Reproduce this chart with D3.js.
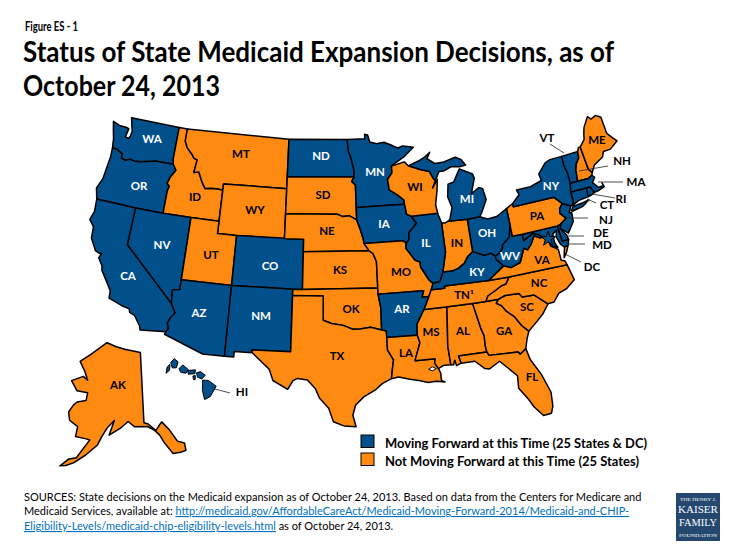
<!DOCTYPE html>
<html><head><meta charset="utf-8">
<script src="https://cdn.jsdelivr.net/npm/d3@7"></script>
<style>html,body{margin:0;padding:0;background:#fff}svg{display:block}text{font-family:Lato,"Open Sans",sans-serif}</style>
</head><body><svg id="c" width="735" height="551"></svg>
<script>
// ---------- chart content ----------
const figureLabel = "Figure ES - 1";
const titleLines = ["Status of State Medicaid Expansion Decisions, as of", "October 24, 2013"];
const legendLabels = ["Moving Forward at this Time (25 States & DC)", "Not Moving Forward at this Time (25 States)"];
const movingForward = ["WA","OR","CA","NV","AZ","NM","CO","ND","MN","IA","AR","IL","KY","OH","WV","MI","NY","VT","MA","RI","CT","NJ","DE","MD","DC","HI"];
const notMovingForward = ["ID","MT","WY","UT","SD","NE","KS","OK","TX","LA","MS","AL","GA","FL","SC","NC","TN","VA","MO","WI","IN","PA","NH","ME","AK"];
const statusColors = ["#02508b", "#ff8a12"];

// ---------- state outlines, [lon, lat] ----------
const WA=[[[-124.7,48.38],[-123.9,48.17],[-123.1,48.15],[-122.75,48.1],[-122.9,47.4],[-122.5,47.3],[-122.35,47.6],[-122.3,47.95],[-122.5,48.4],[-122.75,49],[-117.03,49],[-117.04,46.42],[-116.92,46],[-118.98,46],[-119.3,45.93],[-120.5,45.7],[-121.2,45.65],[-121.8,45.7],[-122.3,45.55],[-122.75,45.65],[-122.8,46],[-123.2,46.15],[-123.5,46.27],[-124,46.27],[-124.1,46.7],[-124.15,47],[-124.4,47.6]]];
const OR=[[[-124,46.27],[-123.5,46.27],[-123.2,46.15],[-122.8,46],[-122.75,45.65],[-122.3,45.55],[-121.8,45.7],[-121.2,45.65],[-120.5,45.7],[-119.3,45.93],[-118.98,46],[-116.92,46],[-116.5,45.55],[-117,44.9],[-117.2,44.4],[-116.9,44.2],[-117.03,43.8],[-117.03,42],[-120,42],[-124.21,42],[-124.55,42.85],[-124.15,43.7],[-124.05,44.7],[-123.95,45.6]]];
const ID=[[[-117.03,49],[-116.05,49],[-116.05,48],[-115.7,47.5],[-115,47],[-114.75,46.75],[-114.35,46.65],[-114.5,45.6],[-113.95,45.7],[-113.45,44.95],[-113,44.45],[-112.3,44.55],[-111.5,44.55],[-111.05,44.48],[-111.05,42],[-114.04,42],[-117.03,42],[-117.03,43.8],[-116.9,44.2],[-117.2,44.4],[-117,44.9],[-116.5,45.55],[-116.92,46],[-117.04,46.42]]];
const MT=[[[-116.05,49],[-104.05,49],[-104.05,45.94],[-104.05,45],[-111.05,45],[-111.05,44.48],[-111.5,44.55],[-112.3,44.55],[-113,44.45],[-113.45,44.95],[-113.95,45.7],[-114.5,45.6],[-114.35,46.65],[-114.75,46.75],[-115,47],[-115.7,47.5],[-116.05,48]]];
const WY=[[[-111.05,45],[-104.05,45],[-104.05,43],[-104.05,41],[-109.05,41],[-111.05,41],[-111.05,42],[-111.05,44.48]]];
const NV=[[[-120,42],[-117.03,42],[-114.04,42],[-114.04,37],[-114.04,36.2],[-114.75,36.1],[-114.63,35],[-120,39]]];
const CA=[[[-124.21,42],[-120,42],[-120,39],[-114.63,35],[-114.13,34.3],[-114.5,33.9],[-114.72,33.4],[-114.52,33.03],[-114.72,32.72],[-117.12,32.53],[-117.25,32.85],[-117.9,33.6],[-118.4,33.75],[-118.5,34.03],[-119.2,34.15],[-120.6,34.55],[-120.65,35.15],[-121.9,36.6],[-122,36.95],[-122.5,37.5],[-122.3,37.9],[-122.5,37.85],[-123,38],[-123.7,38.9],[-123.8,39.8],[-124.35,40.3],[-124.1,41]]];
const UT=[[[-114.04,42],[-111.05,42],[-111.05,41],[-109.05,41],[-109.05,37],[-114.04,37]]];
const AZ=[[[-114.04,37],[-109.05,37],[-109.05,31.33],[-111.07,31.33],[-114.81,32.5],[-114.72,32.72],[-114.52,33.03],[-114.72,33.4],[-114.5,33.9],[-114.13,34.3],[-114.63,35],[-114.75,36.1],[-114.04,36.2]]];
const CO=[[[-109.05,41],[-102.05,41],[-102.05,40],[-102.05,37],[-103,37],[-109.05,37]]];
const NM=[[[-109.05,37],[-103,37],[-103,36.5],[-103,32],[-106.62,32],[-106.53,31.78],[-108.2,31.78],[-108.2,31.33],[-109.05,31.33]]];
const ND=[[[-104.05,49],[-97.23,49],[-97.1,48],[-96.85,47.5],[-96.55,46.5],[-96.56,45.94],[-104.05,45.94]]];
const SD=[[[-104.05,45.94],[-96.56,45.94],[-96.85,45.6],[-96.45,45.3],[-96.45,43.5],[-96.45,42.5],[-97.2,42.85],[-97.9,42.8],[-98.5,43],[-104.05,43],[-104.05,45]]];
const NE=[[[-104.05,43],[-98.5,43],[-97.9,42.8],[-97.2,42.85],[-96.45,42.5],[-96.1,41.7],[-95.85,41],[-95.77,40.59],[-95.3,40],[-102.05,40],[-102.05,41],[-104.05,41]]];
const KS=[[[-102.05,40],[-95.3,40],[-94.9,39.75],[-94.6,39.1],[-94.62,37],[-102.05,37]]];
const OK=[[[-103,37],[-102.05,37],[-94.62,37],[-94.62,36.5],[-94.43,35.4],[-94.48,33.64],[-95.5,33.9],[-96.5,33.8],[-97.2,33.8],[-98.1,34.13],[-99.2,34.3],[-100,34.56],[-100,36.5],[-103,36.5]]];
const TX=[[[-103,36.5],[-100,36.5],[-100,34.56],[-99.2,34.3],[-98.1,34.13],[-97.2,33.8],[-96.5,33.8],[-95.5,33.9],[-94.48,33.64],[-94.04,33.55],[-94.04,33.02],[-94.04,32],[-93.55,31.2],[-93.7,30.5],[-93.85,29.7],[-94.7,29.35],[-95.3,28.9],[-96.4,28.35],[-97.15,27.7],[-97.4,26.9],[-97.15,25.96],[-98.2,26.05],[-99.1,26.4],[-99.5,27.5],[-100.3,28.3],[-100.7,29.1],[-101.4,29.77],[-102.3,29.88],[-102.7,29.7],[-103.15,28.98],[-104.5,29.65],[-104.9,30.55],[-106.53,31.78],[-106.62,32],[-103,32]]];
const MN=[[[-97.23,49],[-95.15,49],[-95.15,49.38],[-94.8,49.3],[-94.6,48.72],[-93.8,48.55],[-92.95,48.62],[-92,48.3],[-91.4,48.07],[-90.8,48.2],[-89.6,48],[-90.8,47.3],[-92.1,46.75],[-92.29,46.66],[-92.3,46.1],[-92.85,45.6],[-92.75,44.75],[-91.9,44.3],[-91.25,43.85],[-91.22,43.5],[-96.45,43.5],[-96.45,45.3],[-96.85,45.6],[-96.56,45.94],[-96.55,46.5],[-96.85,47.5],[-97.1,48]]];
const IA=[[[-96.45,43.5],[-91.22,43.5],[-91.1,42.7],[-90.64,42.5],[-90.15,41.9],[-91.05,41.2],[-91.1,40.7],[-91.42,40.38],[-91.73,40.61],[-95.77,40.59],[-95.85,41],[-96.1,41.7],[-96.45,42.5]]];
const MO=[[[-95.77,40.59],[-91.73,40.61],[-91.42,40.38],[-91.5,40],[-90.7,39],[-90.2,38.8],[-90.2,38.4],[-89.5,37.3],[-89.15,37],[-89.4,36.5],[-89.7,36],[-90.37,36],[-90.15,36.5],[-94.62,36.5],[-94.62,37],[-94.6,39.1],[-94.9,39.75],[-95.3,40]]];
const AR=[[[-94.62,36.5],[-90.15,36.5],[-90.37,36],[-89.7,36],[-90.05,35.4],[-90.3,35],[-90.6,34.6],[-91.1,33.9],[-91.17,33],[-94.04,33.02],[-94.04,33.55],[-94.48,33.64],[-94.43,35.4]]];
const LA=[[[-94.04,33.02],[-91.17,33],[-91,32.4],[-91.6,31],[-89.75,31],[-89.85,30.65],[-89.55,30.18],[-89.4,29.8],[-89.4,29.2],[-89.1,29.05],[-89.9,29.2],[-90.6,29.15],[-91.3,29.35],[-92.2,29.55],[-93.2,29.8],[-93.85,29.7],[-93.7,30.5],[-93.55,31.2],[-94.04,32]]];
const MS=[[[-90.3,35],[-88.2,35],[-88.1,34.9],[-88.47,31.9],[-88.4,30.37],[-89.1,30.38],[-89.55,30.18],[-89.85,30.65],[-89.75,31],[-91.6,31],[-91,32.4],[-91.17,33],[-91.1,33.9],[-90.6,34.6]]];
const AL=[[[-88.2,35],[-85.6,35],[-85.18,32.87],[-85,32.3],[-85.05,31.5],[-85,31],[-87.6,31],[-87.45,30.4],[-87.9,30.25],[-88,30.7],[-88.15,30.35],[-88.4,30.37],[-88.47,31.9],[-88.1,34.9]]];
const GA=[[[-85.6,35],[-84.32,35],[-83.1,35],[-83.35,34.7],[-82.9,34.45],[-82.55,33.95],[-81.9,33.4],[-81.4,32.6],[-80.85,32.05],[-81.15,31.5],[-81.45,30.72],[-82.05,30.36],[-82.2,30.57],[-84.86,30.7],[-85,31],[-85.05,31.5],[-85,32.3],[-85.18,32.87]]];
const FL=[[[-87.6,31],[-85,31],[-84.86,30.7],[-82.2,30.57],[-82.05,30.36],[-81.45,30.72],[-81.25,29.8],[-80.55,28.45],[-80.05,26.9],[-80.15,25.75],[-80.4,25.2],[-81.1,25.15],[-81.75,26],[-82.1,26.7],[-82.75,27.7],[-82.65,28.7],[-83.4,29.5],[-84,30.1],[-85,29.62],[-85.4,29.7],[-86.2,30.4],[-87.45,30.4]]];
const SC=[[[-83.1,35],[-82.4,35.2],[-81.05,35.15],[-80.8,34.82],[-79.67,34.8],[-78.55,33.87],[-79.2,33.2],[-79.9,32.7],[-80.85,32.05],[-81.4,32.6],[-81.9,33.4],[-82.55,33.95],[-82.9,34.45],[-83.35,34.7]]];
const NC=[[[-75.85,36.55],[-81.68,36.59],[-82.1,36.1],[-82.6,36],[-83.3,35.7],[-84.05,35.4],[-84.32,35],[-83.1,35],[-82.4,35.2],[-81.05,35.15],[-80.8,34.82],[-79.67,34.8],[-78.55,33.87],[-77.95,33.9],[-77.3,34.5],[-76.5,34.7],[-75.55,35.25]]];
const TN=[[[-89.4,36.5],[-88.07,36.5],[-88.07,36.68],[-83.68,36.6],[-81.68,36.59],[-82.1,36.1],[-82.6,36],[-83.3,35.7],[-84.05,35.4],[-84.32,35],[-85.6,35],[-88.2,35],[-90.3,35],[-90.05,35.4],[-89.7,36]]];
const KY=[[[-89.15,37],[-89.4,36.5],[-88.07,36.5],[-88.07,36.68],[-83.68,36.6],[-81.97,37.54],[-82.6,38.17],[-82.6,38.42],[-83,38.72],[-83.7,38.65],[-84.8,39.1],[-85.4,38.73],[-85.8,38.28],[-86.5,37.93],[-87.1,37.8],[-88.05,37.8],[-88.45,37.1]]];
const VA=[[[-83.68,36.6],[-81.68,36.59],[-75.85,36.55],[-75.97,36.9],[-76.3,37],[-76.3,37.9],[-76.95,38.3],[-77.05,38.8],[-77.52,39.12],[-77.83,39.13],[-78.35,39.4],[-78.87,38.76],[-79.3,38.42],[-79.65,38.6],[-80.3,37.55],[-81.3,37.3],[-81.97,37.54]],[[-75.95,37.15],[-75.65,37.95],[-75.25,38.03],[-75.6,37.5]]];
const WV=[[[-81.97,37.54],[-81.3,37.3],[-80.3,37.55],[-79.65,38.6],[-79.3,38.42],[-78.87,38.76],[-78.35,39.4],[-77.83,39.13],[-77.72,39.32],[-78.4,39.62],[-79.48,39.2],[-79.48,39.72],[-80.52,39.72],[-80.52,40.64],[-80.87,39.7],[-81.7,39.2],[-81.75,38.95],[-82.2,38.6],[-82.6,38.42],[-82.6,38.17]]];
const MD=[[[-79.48,39.72],[-75.79,39.72],[-75.7,38.46],[-75.05,38.45],[-75.25,38.03],[-75.65,37.95],[-75.95,38.25],[-76.2,38.9],[-76,39.4],[-76.45,39.2],[-76.5,38.5],[-76.3,38.05],[-76.95,38.3],[-77.05,38.8],[-77.52,39.12],[-77.72,39.32],[-78.4,39.62],[-79.48,39.2]]];
const DE=[[[-75.79,39.72],[-75.42,39.8],[-75.55,39.45],[-75.1,38.8],[-75.05,38.45],[-75.7,38.46]]];
const PA=[[[-80.52,41.98],[-79.76,42.27],[-79.76,42],[-75.35,42],[-74.7,41.36],[-75.1,41],[-75.2,40.65],[-74.72,40.15],[-75.42,39.8],[-75.79,39.72],[-79.48,39.72],[-80.52,39.72],[-80.52,40.64]]];
const NJ=[[[-74.7,41.36],[-73.9,41],[-74.25,40.5],[-74,40.45],[-74.1,39.75],[-74.9,38.95],[-75.55,39.45],[-75.42,39.8],[-74.72,40.15],[-75.2,40.65],[-75.1,41]]];
const NY=[[[-79.76,42],[-79.76,42.27],[-78.9,42.85],[-79.05,43.27],[-77.5,43.27],[-76.2,43.55],[-76.3,44.1],[-75.3,44.85],[-74.7,45],[-73.34,45],[-73.4,44.2],[-73.25,43.6],[-73.27,42.75],[-73.5,42.05],[-73.5,41.3],[-73.65,41],[-73.9,41],[-74.7,41.36],[-75.35,42]],[[-74,40.6],[-73.7,40.9],[-72.6,40.98],[-71.9,41.07],[-72.7,40.7],[-73.9,40.55]]];
const VT=[[[-73.34,45],[-71.5,45.01],[-71.6,44.5],[-72.05,44.1],[-72.3,43.6],[-72.46,42.73],[-73.27,42.75],[-73.25,43.6],[-73.4,44.2]]];
const NH=[[[-71.5,45.01],[-71.3,45.3],[-71.08,45.3],[-70.98,43.4],[-70.7,43.07],[-70.82,42.87],[-71.3,42.7],[-72.46,42.73],[-72.3,43.6],[-72.05,44.1],[-71.6,44.5]]];
const ME=[[[-71.08,45.3],[-70.4,45.8],[-70.25,46.2],[-70,46.7],[-69.23,47.46],[-68.9,47.18],[-68.3,47.35],[-67.79,47.07],[-67.79,45.7],[-67.45,45.3],[-67,44.85],[-68,44.4],[-68.8,44.4],[-69.1,44],[-70.2,43.6],[-70.7,43.07],[-70.98,43.4]]];
const MA=[[[-73.27,42.75],[-72.46,42.73],[-71.3,42.7],[-70.82,42.87],[-70.6,42.65],[-71,42.3],[-70.55,41.8],[-70,41.8],[-70.05,42.05],[-69.95,41.7],[-70.65,41.55],[-71.12,41.5],[-71.38,42.02],[-71.8,42.02],[-73.5,42.05]]];
const CT=[[[-73.5,42.05],[-71.8,42.02],[-71.85,41.32],[-72.9,41.25],[-73.65,41],[-73.5,41.3]]];
const RI=[[[-71.8,42.02],[-71.38,42.02],[-71.12,41.5],[-71.5,41.37],[-71.85,41.32]]];
const OH=[[[-84.8,41.7],[-83.45,41.73],[-82.7,41.45],[-81.7,41.5],[-80.52,41.98],[-80.52,40.64],[-80.87,39.7],[-81.7,39.2],[-81.75,38.95],[-82.2,38.6],[-82.6,38.42],[-83,38.72],[-83.7,38.65],[-84.8,39.1]]];
const IN=[[[-87.53,41.71],[-87.2,41.65],[-86.82,41.76],[-84.8,41.7],[-84.8,39.1],[-85.4,38.73],[-85.8,38.28],[-86.5,37.93],[-87.1,37.8],[-88.05,37.8],[-87.53,39.35]]];
const IL=[[[-90.64,42.5],[-87.8,42.5],[-87.53,41.71],[-87.53,39.35],[-88.05,37.8],[-88.45,37.1],[-89.15,37],[-89.5,37.3],[-90.2,38.4],[-90.2,38.8],[-90.7,39],[-91.5,40],[-91.42,40.38],[-91.1,40.7],[-91.05,41.2],[-90.15,41.9]]];
const WI=[[[-92.29,46.66],[-92,46.7],[-90.8,46.9],[-90.4,46.55],[-89.1,46.15],[-88.1,45.9],[-87.8,45.35],[-87.6,45.1],[-88,44.55],[-87.35,45.2],[-87.55,44.3],[-87.9,43.2],[-87.8,42.5],[-90.64,42.5],[-91.1,42.7],[-91.22,43.5],[-91.25,43.85],[-91.9,44.3],[-92.75,44.75],[-92.85,45.6],[-92.3,46.1]]];
const MI=[[[-90.4,46.55],[-89.2,46.85],[-88.45,47.1],[-87.8,47.45],[-88.2,46.95],[-87.4,46.5],[-86.5,46.5],[-85,46.75],[-84.4,46.5],[-84,46],[-84.7,45.95],[-85.6,46.05],[-86.5,45.8],[-87.05,45.8],[-87.6,45.1],[-87.8,45.35],[-88.1,45.9],[-89.1,46.15]],[[-86.82,41.76],[-84.8,41.7],[-83.45,41.73],[-83.15,42.05],[-82.45,43],[-82.6,43.9],[-83,44.05],[-83.9,43.65],[-83.3,44.85],[-83.4,45.2],[-84.75,45.78],[-85.1,45.4],[-85.6,44.8],[-86.25,44.7],[-86.5,43.7],[-86.2,42.8],[-86.6,41.9]]];
const AK=[[[-141,69.65],[-141,60.3],[-139.7,60],[-137.5,58.9],[-136.5,59.4],[-135.5,59.8],[-133.5,58.4],[-131.8,56.6],[-130,56],[-130,55],[-131.5,55],[-133.5,55.2],[-135.5,57],[-136.6,58.2],[-138,59],[-140,59.7],[-144,60],[-146,60.8],[-148.5,60],[-151.8,59.2],[-150.5,61.1],[-152.5,60.2],[-154,59],[-155,57.9],[-158,56.5],[-161,55.3],[-163,54.8],[-164.5,54.6],[-162.5,55.7],[-160.5,56],[-157.5,58.5],[-159,58.6],[-162,58.7],[-162,60],[-165,60.6],[-166,61.6],[-165,62.6],[-164,63.1],[-161,63.5],[-161,64.5],[-165,64.5],[-168,65.6],[-164,66.5],[-162,66.1],[-163.7,67.1],[-166.8,68.3],[-163,69.5],[-156.6,71.3],[-152,70.8],[-148,70.4]]];
const HI=[[[-160.6,21.4],[-160.4,21.9],[-160.05,22.05],[-160.15,21.6]],[[-159.95,22.2],[-159.5,22.45],[-159.05,22.15],[-159.3,21.7],[-159.8,21.75]],[[-159,21.6],[-158.5,21.85],[-157.85,21.4],[-158.2,21.15],[-158.8,21.3]],[[-157.95,21.35],[-157,21.3],[-157.1,21],[-157.9,21.05]],[[-157.35,20.85],[-157.05,20.85],[-157.1,20.55],[-157.3,20.55]],[[-156.9,21.05],[-156.4,21.1],[-155.85,20.75],[-156.3,20.5],[-156.8,20.7]],[[-156.2,20.4],[-155.5,20.3],[-154.6,19.75],[-155.4,19],[-156.1,18.85],[-156.3,19.6]]];
const DC=[-77.03,38.9];
const stateShapes={WA,OR,ID,MT,WY,NV,CA,UT,AZ,CO,NM,ND,SD,NE,KS,OK,TX,MN,IA,MO,AR,LA,MS,AL,GA,FL,SC,NC,TN,KY,VA,WV,MD,DE,PA,NJ,NY,VT,NH,ME,MA,CT,RI,OH,IN,IL,WI,MI,AK,HI};
const lakePontchartrain=[[-90.45,30.2],[-90.1,30.38],[-89.75,30.2],[-90.1,30.05]];

// ---------- layout only (page pixels) ----------
const stateLabels=[["WA",152,139,1],["OR",139,186,1],["CA",128,276,1],["NV",162,245,1],["ID",195,197,0],["MT",241,154,0],["WY",255,210,0],["UT",211,255,0],["AZ",199,313,1],["CO",270,266,1],["NM",261,316,1],["ND",321,156,1],["SD",323,195,0],["NE",327,231,0],["KS",340,270,0],["OK",351,309,0],["TX",337,356,0],["MN",375,172,1],["IA",384,224,1],["MO",401,272,0],["AR",402,309,1],["LA",406,353,0],["MS",431,332,0],["AL",463,331,0],["GA",504,331,0],["FL",532,377,0],["SC",527,307,0],["NC",539,283,0],["TN\u00B9",464,295,0],["KY",477,272,1],["IL",426,243,1],["IN",457,243,0],["OH",487,233,1],["WV",510,256,1],["MI",467,199,1],["WI",415,187,0],["PA",537,216,0],["NY",551,186,1],["VA",542,260,0],["ME",597,140,0],["AK",118,385,0],["VT",547,138,0],["NH",622,161,0],["MA",636,182,0],["RI",621,199,0],["CT",607,205,0],["NJ",606,220,0],["DE",601,233,0],["MD",602,245,0],["DC",592,267,0],["HI",242,392,0]];
const leaders=[[550,144,564,153],[608,166,579,171],[623,182,598,182],[615,198,592,194],[596,203,587,199],[588,218,567,218],[584,236,568,236],[585,244,568,244],[581,262,565,254],[230,393,215,389]];
// geographic reference points and where they sit on the page: [lon, lat, x, y]
const lowerAnchors=[[-117.03,49,178.3,127.3],[-124.21,42,97.3,199],[-120,42,136.7,207.3],[-114.04,42,192.7,218.3],[-111.05,42,218.3,220.7],[-111.05,45,223.3,184],[-104.05,45,286.7,189],[-104.05,41,284,239],[-111.05,41,217.7,234],[-109.05,41,236,236.7],[-102.05,41,304.3,240],[-102.05,37,302.7,289],[-109.05,37,231.7,286],[-114.04,37,183.3,281.7],[-104.05,49,286.7,138.3],[-97.23,49,345,138.3],[-96.56,45.94,355,176.7],[-96.45,43.5,356.7,208.3],[-102.05,40,304.3,251.7],[-95.3,40,370,251.7],[-94.62,37,377.7,290],[-109.05,31.33,223.3,352.7],[-103,32,291,349.3],[-114.81,32.5,166,333],[-117.12,32.53,139,328.3],[-103,36.5,293,296.7],[-100,36.5,323.3,297.3],[-100,34.56,324,321.7],[-97.15,25.96,355,426],[-103.15,28.98,286.7,388],[-94.04,33.02,386,336.7],[-91.17,33,415.7,335],[-87.6,31,449,363.3],[-85,31,487.7,356.7],[-82.05,30.36,526.7,349.3],[-80.4,25.2,554,411.7],[-81.1,25.15,543.3,412.7],[-88.2,35,447.3,307.3],[-85.6,35,474.3,304],[-80.85,32.05,529,331.7],[-90.64,42.5,413.3,216.7],[-87.8,42.5,436,213.3],[-87.53,41.71,441,225],[-84.8,41.7,467.3,219.3],[-80.52,41.98,506.7,205],[-75.35,42,555.7,198.3],[-80.52,39.72,509.3,234.3],[-75.79,39.72,557.7,226.7],[-73.34,45,561,155],[-71.5,45.01,574.3,151.7],[-73.5,42.05,570,190],[-67,44.85,616,140.7],[-69.23,47.46,593.3,115],[-75.85,36.55,566.7,266.7],[-81.68,36.59,505,280],[-83.68,36.6,491.7,280]];
const alaskaAnchors=[[-141,69.65,145,355],[-141,60.3,145,416],[-164.5,54.6,60,468],[-130,55,184,453],[-156.6,71.3,103,343],[-168,65.6,75,379],[-166.8,68.3,77,362]];
const hawaiiAnchors=[[-159.5,22.05,176,363],[-158,21.47,185,369],[-156.35,20.78,202,376],[-155.5,19.6,209,389],[-160.15,21.9,169,367]];

const svg=d3.select("#c");
// projection -> least-squares affine onto the page
function anchored(proj,anchors){
  const P=anchors.map(a=>{const q=proj([a[0],a[1]]);return [q[0],q[1],1];});
  const solve=t=>{
    const A=[[0,0,0,0],[0,0,0,0],[0,0,0,0]];
    P.forEach((p,k)=>{for(let i=0;i<3;i++){for(let j=0;j<3;j++)A[i][j]+=p[i]*p[j];A[i][3]+=p[i]*t[k];}});
    for(let i=0;i<3;i++){let m=i;for(let r=i+1;r<3;r++)if(Math.abs(A[r][i])>Math.abs(A[m][i]))m=r;[A[i],A[m]]=[A[m],A[i]];
      for(let r=0;r<3;r++){if(r===i)continue;const f=A[r][i]/A[i][i];for(let c=i;c<4;c++)A[r][c]-=f*A[i][c];}}
    return [A[0][3]/A[0][0],A[1][3]/A[1][1],A[2][3]/A[2][2]];
  };
  const cx=solve(anchors.map(a=>a[2])),cy=solve(anchors.map(a=>a[3]));
  return p=>{const q=proj(p);return [cx[0]*q[0]+cx[1]*q[1]+cx[2],cy[0]*q[0]+cy[1]*q[1]+cy[2]];};
}
const lower=anchored(d3.geoConicEqualArea().parallels([29.5,45.5]).rotate([96,0]).center([0,37.5]).scale(100).translate([0,0]),lowerAnchors);
const alaska=anchored(d3.geoConicEqualArea().parallels([55,65]).rotate([154,0]).center([0,60]).scale(100).translate([0,0]),alaskaAnchors);
const hawaii=anchored(d3.geoEquirectangular().rotate([157,0]).scale(100).translate([0,0]),hawaiiAnchors);
const projectorFor=id=>id==="AK"?alaska:id==="HI"?hawaii:lower;
const line=d3.line().curve(d3.curveLinearClosed);
const color=d3.scaleOrdinal().domain(["moving","not"]).range(statusColors);
const status=id=>movingForward.includes(id)?"moving":"not";

const g=svg.append("g");
g.selectAll("path.state").data(Object.keys(stateShapes)).join("path").attr("class","state")
 .attr("d",id=>stateShapes[id].map(r=>line(r.map(projectorFor(id)))).join(""))
 .attr("fill",id=>color(status(id))).attr("stroke","#000").attr("stroke-width",id=>id==="HI"?1:1.5).attr("stroke-linejoin","round");
g.append("path").attr("d",line(lakePontchartrain.map(lower))).attr("fill","#fff").attr("stroke","#000").attr("stroke-width",1);
const dcp=lower(DC);
g.append("path").attr("transform",`translate(${dcp[0]},${dcp[1]})`).attr("d",d3.symbol(d3.symbolStar,70)())
 .attr("fill",color(status("DC"))).attr("stroke","#000").attr("stroke-width",1);

svg.append("g").selectAll("line").data(leaders).join("line")
 .attr("x1",d=>d[0]).attr("y1",d=>d[1]).attr("x2",d=>d[2]).attr("y2",d=>d[3]).attr("stroke","#222").attr("stroke-width",.8);
svg.append("g").selectAll("text").data(stateLabels).join("text")
 .attr("x",d=>d[1]).attr("y",d=>d[2]).attr("text-anchor","middle").attr("dy","0.36em")
 .attr("font-size",11.5).attr("font-weight",700).attr("fill",d=>d[3]?"#fff":"#000").text(d=>d[0]);

svg.append("text").attr("x",25).attr("y",31).attr("font-size",12.5).attr("font-weight",700).attr("textLength",53).attr("lengthAdjust","spacingAndGlyphs").text(figureLabel);
const titleWidths=[591,197];
svg.append("g").selectAll("text").data(titleLines).join("text").attr("x",23).attr("y",(d,i)=>62+i*34)
 .attr("font-size",29).attr("font-weight",700).attr("fill","#000").attr("textLength",(d,i)=>titleWidths[i]).attr("lengthAdjust","spacingAndGlyphs").text(d=>d);

const legendWidths=[262,254];
const lg=svg.append("g").selectAll("g").data(legendLabels).join("g").attr("transform",(d,i)=>`translate(361,${435+i*18})`);
lg.append("rect").attr("width",13).attr("height",12.5).attr("fill",(d,i)=>statusColors[i]).attr("stroke","#000").attr("stroke-width",1);
lg.append("text").attr("x",24).attr("y",12.5).attr("font-size",13).attr("font-weight",700).attr("textLength",(d,i)=>legendWidths[i]).attr("lengthAdjust","spacingAndGlyphs").text(d=>d);

const src=svg.append("g").attr("font-size",11).attr("fill","#000");
src.append("text").attr("x",24).attr("y",501).text("SOURCES: State decisions on the Medicaid expansion as of October 24, 2013. Based on data from the Centers for Medicare and");
const l2=src.append("text").attr("x",24).attr("y",515);
l2.append("tspan").text("Medicaid Services, available at: ");
l2.append("tspan").attr("fill","#0070c0").attr("text-decoration","underline").text("http://medicaid.gov/AffordableCareAct/Medicaid-Moving-Forward-2014/Medicaid-and-CHIP-");
const l3=src.append("text").attr("x",24).attr("y",530);
l3.append("tspan").attr("fill","#0070c0").attr("text-decoration","underline").text("Eligibility-Levels/medicaid-chip-eligibility-levels.html");
l3.append("tspan").text(" as of October 24, 2013.");

const logo=svg.append("g");
logo.append("rect").attr("x",676).attr("y",493).attr("width",44).attr("height",48).attr("fill","#24486f");
[["THE HENRY J.",501,4.5,36],["KAISER",513,10.5,40],["FAMILY",526,10.5,38],["FOUNDATION",537,4.5,38]].forEach(d=>{
 logo.append("text").attr("x",678+(40-d[3])/2).attr("y",d[1]).attr("fill","#fff").attr("font-size",d[2]).attr("textLength",d[3]).attr("lengthAdjust","spacingAndGlyphs").style("font-family","'Liberation Serif',serif").text(d[0]);
});
</script></body></html>
